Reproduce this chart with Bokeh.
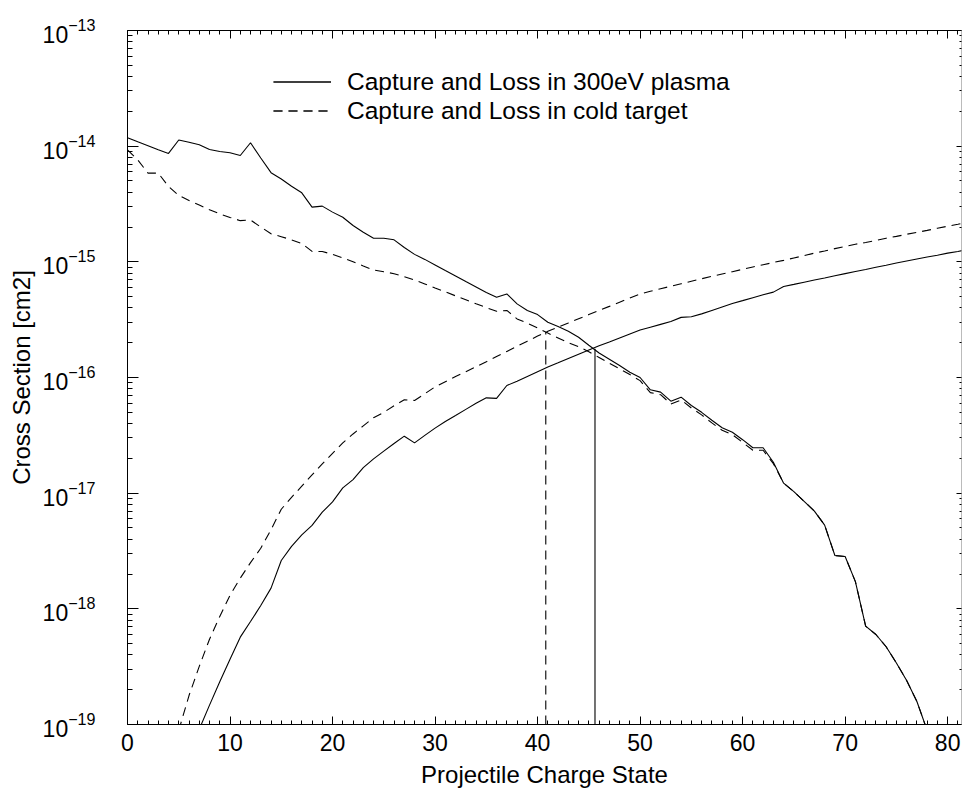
from bokeh.plotting import figure
from bokeh.models import (Range1d, FixedTicker, LinearAxis, LogAxis, Legend, LegendItem,
                          CustomLabelingPolicy)
from bokeh.embed import file_html
from bokeh.resources import INLINE

# ---- data ----
# electron loss, 300 eV plasma (charge states 0..78)
loss_plasma_q = list(range(0, 79))
loss_plasma = [
    1.18e-14, 1.09e-14, 1.01e-14, 9.3e-15, 8.65e-15, 1.13e-14, 1.08e-14, 1.03e-14, 9.35e-15, 9.0e-15,
    8.77e-15, 8.3e-15, 1.07e-14, 7.9e-15, 5.9e-15, 5.2e-15, 4.5e-15, 3.95e-15, 2.97e-15, 3.03e-15,
    2.69e-15, 2.43e-15, 2.06e-15, 1.8e-15, 1.6e-15, 1.6e-15, 1.55e-15, 1.33e-15, 1.16e-15, 1.05e-15,
    9.4e-16, 8.4e-16, 7.55e-16, 6.76e-16, 6.07e-16, 5.44e-16, 4.94e-16, 5.28e-16, 4.33e-16, 3.8e-16,
    3.5e-16, 3.0e-16, 2.76e-16, 2.51e-16, 2.23e-16, 1.9e-16, 1.63e-16, 1.44e-16, 1.27e-16, 1.11e-16,
    1.0e-16, 7.83e-17, 7.47e-17, 6.24e-17, 6.76e-17, 5.73e-17, 5.0e-17, 4.27e-17, 3.68e-17, 3.36e-17,
    2.9e-17, 2.47e-17, 2.47e-17, 1.85e-17, 1.22e-17, 1.03e-17, 8.5e-18, 7.0e-18, 5.3e-18, 2.89e-18,
    2.83e-18, 1.72e-18, 7.08e-19, 6.0e-19, 4.7e-19, 3.4e-19, 2.4e-19, 1.58e-19, 8.9e-20,
]
# electron loss, cold target (charge states 0..78)
loss_cold_q = list(range(0, 79))
loss_cold = [
    9.3e-15, 7.6e-15, 5.85e-15, 5.85e-15, 4.48e-15, 3.75e-15, 3.39e-15, 3.1e-15, 2.82e-15, 2.6e-15,
    2.42e-15, 2.27e-15, 2.3e-15, 2.0e-15, 1.75e-15, 1.65e-15, 1.55e-15, 1.44e-15, 1.23e-15, 1.23e-15,
    1.16e-15, 1.08e-15, 1.0e-15, 9.2e-16, 8.5e-16, 8.2e-16, 7.9e-16, 7.45e-16, 6.97e-16, 6.44e-16,
    5.95e-16, 5.5e-16, 5.08e-16, 4.7e-16, 4.34e-16, 4.02e-16, 3.74e-16, 3.8e-16, 3.21e-16, 2.95e-16,
    2.68e-16, 2.42e-16, 2.2e-16, 2.0e-16, 1.85e-16, 1.67e-16, 1.49e-16, 1.33e-16, 1.19e-16, 1.06e-16,
    9.4e-17, 7.4e-17, 7.1e-17, 5.9e-17, 6.4e-17, 5.45e-17, 4.75e-17, 4.05e-17, 3.5e-17, 3.2e-17,
    2.75e-17, 2.35e-17, 2.35e-17, 1.8e-17, 1.22e-17, 1.03e-17, 8.5e-18, 7.0e-18, 5.3e-18, 2.89e-18,
    2.83e-18, 1.72e-18, 7.08e-19, 6.0e-19, 4.7e-19, 3.4e-19, 2.4e-19, 1.58e-19, 8.9e-20,
]
# electron capture, 300 eV plasma (charge states 7..82)
cap_plasma_q = list(range(7, 83))
cap_plasma = [
    9.1e-20, 1.47e-19, 2.34e-19, 3.66e-19, 5.69e-19, 7.76e-19, 1.07e-18, 1.51e-18, 2.62e-18, 3.47e-18,
    4.36e-18, 5.26e-18, 6.85e-18, 8.4e-18, 1.11e-17, 1.31e-17, 1.66e-17, 1.98e-17, 2.31e-17, 2.69e-17,
    3.11e-17, 2.72e-17, 3.16e-17, 3.65e-17, 4.17e-17, 4.7e-17, 5.3e-17, 5.98e-17, 6.67e-17, 6.6e-17,
    8.53e-17, 9.3e-17, 1.02e-16, 1.12e-16, 1.23e-16, 1.34e-16, 1.46e-16, 1.59e-16, 1.73e-16, 1.88e-16,
    2.03e-16, 2.2e-16, 2.38e-16, 2.57e-16, 2.72e-16, 2.88e-16, 3.05e-16, 3.31e-16, 3.35e-16, 3.55e-16,
    3.8e-16, 4.07e-16, 4.36e-16, 4.62e-16, 4.9e-16, 5.19e-16, 5.47e-16, 6.12e-16, 6.38e-16, 6.67e-16,
    6.97e-16, 7.26e-16, 7.58e-16, 7.91e-16, 8.24e-16, 8.59e-16, 8.97e-16, 9.35e-16, 9.77e-16, 1.016e-15,
    1.057e-15, 1.1e-15, 1.14e-15, 1.19e-15, 1.23e-15, 1.28e-15,
]
# electron capture, cold target (charge states 5..82)
cap_cold_q = list(range(5, 83))
cap_cold = [
    8.9e-20, 1.78e-19, 3.18e-19, 5.46e-19, 8.6e-19, 1.31e-18, 1.84e-18, 2.51e-18, 3.34e-18, 4.84e-18,
    7.26e-18, 9.2e-18, 1.15e-17, 1.44e-17, 1.79e-17, 2.21e-17, 2.72e-17, 3.25e-17, 3.82e-17, 4.49e-17,
    5.0e-17, 5.69e-17, 6.42e-17, 6.33e-17, 7.24e-17, 8.3e-17, 9.2e-17, 1.02e-16, 1.12e-16, 1.24e-16,
    1.37e-16, 1.52e-16, 1.68e-16, 1.86e-16, 2.06e-16, 2.28e-16, 2.51e-16, 2.73e-16, 2.96e-16, 3.22e-16,
    3.5e-16, 3.8e-16, 4.12e-16, 4.48e-16, 4.86e-16, 5.28e-16, 5.56e-16, 5.85e-16, 6.15e-16, 6.46e-16,
    6.79e-16, 7.14e-16, 7.5e-16, 7.85e-16, 8.22e-16, 8.61e-16, 9.02e-16, 9.44e-16, 9.87e-16, 1.03e-15,
    1.08e-15, 1.13e-15, 1.19e-15, 1.24e-15, 1.3e-15, 1.36e-15, 1.42e-15, 1.47e-15, 1.53e-15, 1.6e-15,
    1.66e-15, 1.73e-15, 1.8e-15, 1.87e-15, 1.95e-15, 2.03e-15, 2.11e-15, 2.2e-15,
]
# equilibrium points (capture = loss): plasma, cold
cross_q = [45.6, 40.8]
cross_sigma = [1.77e-16, 2.47e-16]

legend_labels = ["Capture and Loss in 300eV plasma", "Capture and Loss in cold target"]
x_major = [0, 10, 20, 30, 40, 50, 60, 70, 80]
x_minor = list(range(0, 83))
y_major = [1e-19, 1e-18, 1e-17, 1e-16, 1e-15, 1e-14, 1e-13]
y_minor = [m * 10.0 ** e for e in range(-19, -13) for m in range(2, 10)]

Y_MIN, Y_MAX = 1e-19, 1e-13
FONT = "Liberation Sans"

p = figure(width=962, height=796, x_range=Range1d(0, 81.35), y_range=Range1d(Y_MIN, Y_MAX),
           y_axis_type="log", output_backend="svg", toolbar_location=None,
           min_border_left=127, min_border_right=0, min_border_top=30, min_border_bottom=72)
p.outline_line_color = None
p.grid.visible = False
p.background_fill_color = "white"
p.border_fill_color = "white"

def style_axis(ax, major_in, minor_in):
    ax.major_tick_in = major_in
    ax.major_tick_out = 0
    ax.minor_tick_in = minor_in
    ax.minor_tick_out = 0
    ax.axis_line_color = "black"
    ax.major_tick_line_color = "black"
    ax.minor_tick_line_color = "black"
    ax.axis_line_width = 1
    ax.major_label_text_font = FONT
    ax.axis_label_text_font = FONT
    ax.axis_label_text_font_style = "normal"
    ax.major_label_text_color = "black"
    ax.axis_label_text_color = "black"

xax = p.xaxis[0]
xax.ticker = FixedTicker(ticks=x_major, minor_ticks=x_minor)
style_axis(xax, 8, 4)
xax.major_label_text_font_size = "23px"
xax.major_label_standoff = 9
xax.axis_label = "Projectile Charge State"
xax.axis_label_text_font_size = "24px"
xax.axis_label_standoff = 7

yax = p.yaxis[0]
yax.ticker = FixedTicker(ticks=y_major, minor_ticks=y_minor)
style_axis(yax, 11, 5)
yax.major_label_text_font_size = "23px"
yax.major_label_standoff = 32
yax.axis_label = "Cross Section [cm2]"
yax.axis_label_text_font_size = "24px"
yax.axis_label_standoff = 5

top = LinearAxis(ticker=FixedTicker(ticks=x_major, minor_ticks=x_minor))
style_axis(top, 8, 4)
top.major_label_text_font_size = "1px"
top.major_label_standoff = 0
top.major_label_policy = CustomLabelingPolicy(code="return new Set()")
p.add_layout(top, "above")

right = LogAxis(ticker=FixedTicker(ticks=y_major, minor_ticks=y_minor))
style_axis(right, 5, 2)
right.axis_line_color = "#777777"
right.axis_line_dash = "1 1"
right.major_label_text_font_size = "1px"
right.major_label_standoff = -4
right.major_label_policy = CustomLabelingPolicy(code="return new Set()")
p.add_layout(right, "right")

LW = 1.1
DASH = "9 6"
r1 = p.line(loss_plasma_q, loss_plasma, line_color="black", line_width=LW)
r2 = p.line(cap_plasma_q, cap_plasma, line_color="black", line_width=LW)
r3 = p.line(loss_cold_q, loss_cold, line_color="black", line_width=LW, line_dash=DASH)
r4 = p.line(cap_cold_q, cap_cold, line_color="black", line_width=LW, line_dash=DASH)
p.segment(x0=[cross_q[0]], y0=[Y_MIN], x1=[cross_q[0]], y1=[cross_sigma[0]],
          line_color="black", line_width=LW)
p.segment(x0=[cross_q[1]], y0=[Y_MIN], x1=[cross_q[1]], y1=[cross_sigma[1]],
          line_color="black", line_width=LW, line_dash=DASH)

legend = Legend(items=[LegendItem(label=legend_labels[0], renderers=[r1, r2]),
                       LegendItem(label=legend_labels[1], renderers=[r3, r4])],
                location=(146, 599), orientation="vertical", padding=0, margin=0, spacing=0,
                glyph_width=58, glyph_height=29, label_height=29, label_standoff=16,
                label_text_font_size="24.5px", label_text_font=FONT, label_text_color="black",
                border_line_alpha=0, background_fill_alpha=0)
p.add_layout(legend)

open("out.html", "w").write(file_html(p, INLINE))
